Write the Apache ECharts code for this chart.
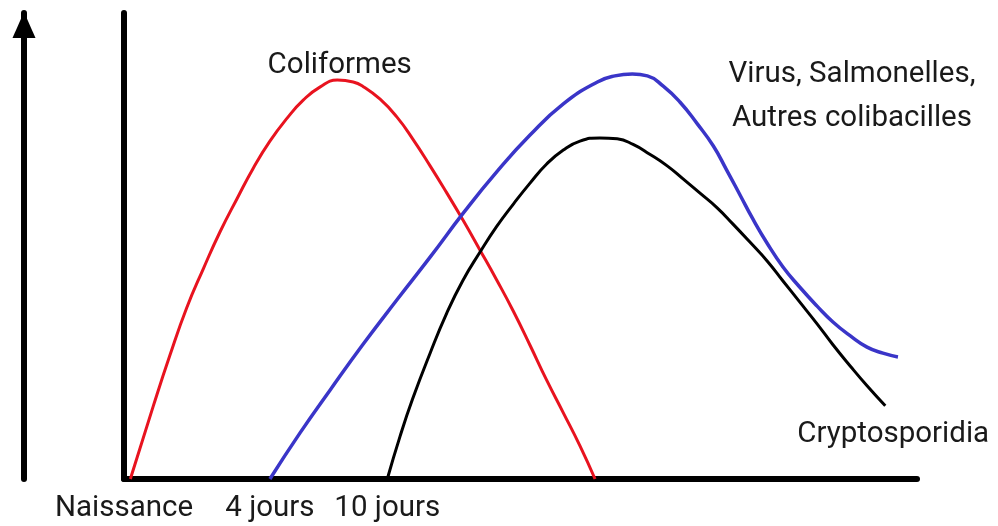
<!DOCTYPE html>
<html>
<head>
<meta charset="utf-8">
<script src="https://cdn.jsdelivr.net/npm/echarts@6/dist/echarts.min.js"></script>
<style>
  html, body { margin: 0; padding: 0; background: #fff; }
  #chart { width: 998px; height: 526px; }
</style>
</head>
<body>
<div id="chart"></div>
<script>
var coliformesData = [
  [0.8, 0], [3.7, 15.7], [5.8, 26.6], [7.9, 36.7], [10.0, 45.1], [12.1, 53.0],
  [14.3, 60.3], [16.3, 66.7], [18.4, 72.5], [20.6, 77.5], [22.6, 81.3],
  [24.7, 84.1], [26.9, 85.6], [28.9, 85.2], [30.1, 84.3], [32.3, 81.5],
  [34.4, 77.7], [36.4, 73.0], [38.6, 67.2], [40.7, 61.4], [42.8, 55.4],
  [44.9, 49.1], [47.0, 42.7], [49.1, 36.0], [51.2, 28.7], [53.3, 21.2],
  [55.4, 14.2], [57.5, 7.1], [59.4, 0]
];
var virusData = [
  [18.4, 0], [22.2, 9.9], [26.0, 19.1], [30.1, 28.8], [34.4, 38.4], [38.6, 47.6],
  [42.8, 57.1], [47.0, 65.9], [51.2, 73.8], [55.4, 80.5], [59.7, 85.2],
  [61.9, 86.5], [64.1, 86.9], [66.0, 86.5], [68.0, 84.3], [70.1, 80.9],
  [72.3, 76.2], [74.3, 71.5], [76.0, 66.3], [77.7, 60.9], [79.3, 55.8],
  [81.1, 50.6], [83.1, 45.5], [85.2, 41.2], [87.4, 37.1], [89.4, 33.7],
  [91.6, 30.7], [93.7, 28.3], [95.7, 27.0], [97.6, 26.2]
];
var cryptoData = [
  [33.2, 0], [34.8, 9.1], [36.4, 17.2], [38.6, 27.0], [40.7, 35.6], [42.7, 42.5],
  [44.9, 48.7], [47.0, 54.2], [49.1, 59.0], [51.2, 63.5], [53.3, 67.6],
  [55.4, 70.6], [57.5, 72.5], [60.0, 73.2], [62.2, 73.0], [64.2, 71.8],
  [66.3, 69.7], [68.5, 67.2], [70.5, 64.4], [72.6, 61.4], [74.8, 58.2],
  [76.8, 54.7], [78.9, 50.9], [81.1, 46.8], [83.1, 42.5], [85.2, 38.0],
  [87.4, 33.3], [89.4, 28.8], [91.6, 24.2], [93.7, 20.0], [96.0, 15.7]
];
var tickValues = [0, 18.4, 33.2];
var tickLabels = ['Naissance', '4 jours', '10 jours'];

var seriesNames = ['Coliformes', 'Virus, Salmonelles,\nAutres colibacilles', 'Cryptosporidia'];
// position des étiquettes, en coordonnées du graphique
var labelCoords = [[27.2, 88.8], [91.8, 82.0], [97.0, 9.5]];

var FONT = 'Roboto';
var chart = echarts.init(document.getElementById('chart'));

function makeSeries(data, idx, color, width) {
  return {
    type: 'line',
    data: data,
    smooth: 0.5,
    showSymbol: false,
    silent: true,
    lineStyle: { color: color, width: width },
    markPoint: {
      symbol: 'circle',
      symbolSize: 0,
      silent: true,
      label: {
        show: true,
        position: 'inside',
        formatter: seriesNames[idx],
        color: '#1a1a1a',
        fontFamily: FONT,
        fontSize: 29.5,
        lineHeight: 44,
        align: 'center'
      },
      data: [{ coord: labelCoords[idx] }]
    }
  };
}

var option = {
  animation: false,
  backgroundColor: '#fff',
  grid: { left: 124, right: 81, top: 13, bottom: 47 },
  xAxis: {
    type: 'value',
    min: 0,
    max: 100,
    splitLine: { show: false },
    axisLine: { lineStyle: { color: '#000', width: 6 } },
    axisTick: { show: false },
    axisLabel: {
      customValues: tickValues,
      formatter: function (v) {
        var i = tickValues.indexOf(v);
        return i >= 0 ? tickLabels[i] : '';
      },
      margin: 15,
      color: '#1a1a1a',
      fontFamily: FONT,
      fontSize: 29.5
    }
  },
  yAxis: [
    {
      type: 'value',
      min: 0,
      max: 100,
      splitLine: { show: false },
      axisLine: { show: true, lineStyle: { color: '#000', width: 6 } },
      axisTick: { show: false },
      axisLabel: { show: false }
    },
    {
      type: 'value',
      position: 'left',
      offset: 100,
      min: 0,
      max: 100,
      splitLine: { show: false },
      axisLine: {
        show: true,
        symbol: ['none', 'triangle'],
        symbolSize: [23, 26],
        symbolOffset: [0, -12],
        lineStyle: { color: '#000', width: 6 }
      },
      axisTick: { show: false },
      axisLabel: { show: false }
    }
  ],
  series: [
    makeSeries(coliformesData, 0, '#e8131f', 3),
    makeSeries(virusData, 1, '#3a35c8', 3.5),
    makeSeries(cryptoData, 2, '#000', 3)
  ]
};

chart.setOption(option);
</script>
</body>
</html>
